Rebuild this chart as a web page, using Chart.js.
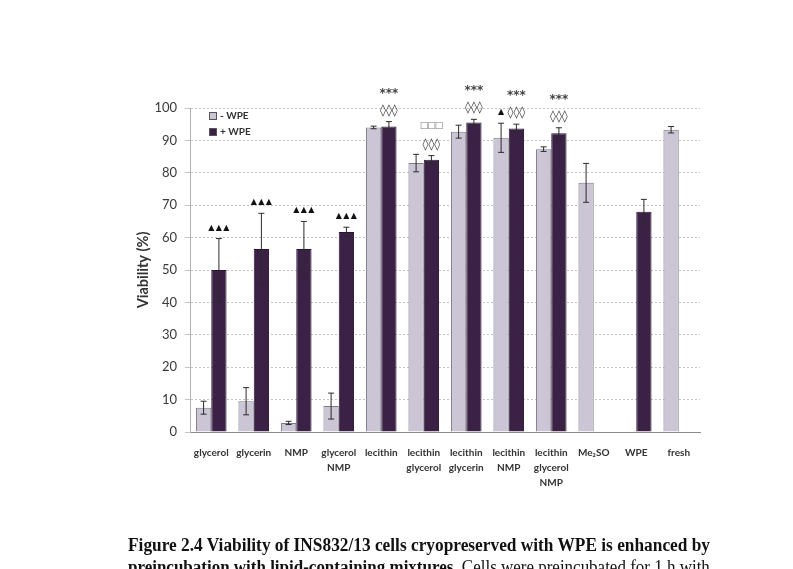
<!DOCTYPE html>
<html>
<head>
<meta charset="utf-8">
<script src="https://cdn.jsdelivr.net/npm/chart.js@4.4.0/dist/chart.umd.min.js"></script>
<style>
  html, body { margin: 0; padding: 0; background: #ffffff; }
  #wrap { position: relative; width: 793px; height: 569px; overflow: hidden; background: #fff; }
  #c { position: absolute; left: 0; top: 0; }
  .cap { position: absolute; left: 128px; white-space: nowrap; font-family: "Liberation Serif", "DejaVu Serif", serif; font-size: 18px; line-height: 22px; color: #111; transform-origin: 0 0; }
  .cap b { font-weight: bold; }
</style>
</head>
<body>
<div id="wrap">
  <canvas id="c" width="793" height="569"></canvas>
  <div class="cap" id="cap1" style="top:534px"><b>Figure 2.4 Viability of INS832/13 cells cryopreserved with WPE is enhanced by</b></div>
  <div class="cap" id="cap2" style="top:556px"><b>preincubation with lipid-containing mixtures.</b> Cells were preincubated for 1 h with</div>
</div>
<script>
// ---- data ----
const categories = [
  ["glycerol"], ["glycerin"], ["NMP"], ["glycerol", "NMP"], ["lecithin"],
  ["lecithin", "glycerol"], ["lecithin", "glycerin"], ["lecithin", "NMP"],
  ["lecithin", "glycerol", "NMP"], ["Me\u2082SO"], ["WPE"], ["fresh"]
];
const seriesNames = ["- WPE", "+ WPE"];
const minusWPE = [7.5, 9.5, 2.8, 8.0, 94.0, 83.0, 92.7, 90.8, 87.3, 76.9, null, 93.3];
const minusWPEErr = [2.0, 4.2, 0.5, 4.0, 0.4, 2.7, 2.0, 4.5, 0.7, 6.0, null, 1.0];
const plusWPE = [50.0, 56.5, 56.5, 61.7, 94.3, 84.0, 95.5, 93.7, 92.2, null, 68.0, null];
const plusWPEErr = [9.7, 11.0, 8.5, 1.5, 1.5, 1.3, 1.0, 1.3, 1.7, null, 3.8, null];
// significance markers (top line first), per category
const minusMarks = ["", "", "", "", "", "", "", "\u25B2", "", "", "", ""];
const plusMarks = ["\u25B2\u25B2\u25B2", "\u25B2\u25B2\u25B2", "\u25B2\u25B2\u25B2", "\u25B2\u25B2\u25B2",
  "***|\u25CA\u25CA\u25CA", "\u25A1\u25A1\u25A1|\u25CA\u25CA\u25CA", "***|\u25CA\u25CA\u25CA", "***|\u25CA\u25CA\u25CA",
  "***|\u25CA\u25CA\u25CA", "", "", ""];
const yTicks = [0, 10, 20, 30, 40, 50, 60, 70, 80, 90, 100];

const errs = [minusWPEErr, plusWPEErr];
const marks = [minusMarks, plusMarks];
const lightFill = "#cbc5d6", darkFill = "#3c2146";

// fit caption lines to the printed width
["cap1", "cap2"].forEach(id => {
  const el = document.getElementById(id);
  const w = el.scrollWidth;
  el.style.transform = "scaleX(" + (582 / w) + ")";
});

const extrasPlugin = {
  id: "extras",
  afterDatasetsDraw(chart) {
    const ctx = chart.ctx, y = chart.scales.y, area = chart.chartArea;
    ctx.save();
    chart.data.datasets.forEach((ds, di) => {
      const meta = chart.getDatasetMeta(di);
      meta.data.forEach((el, i) => {
        const v = ds.data[i];
        if (v === null || v === undefined) return;
        const e = errs[di][i] || 0;
        const x = el.x;
        const yTop = y.getPixelForValue(v + e), yBot = y.getPixelForValue(v - e);
        ctx.strokeStyle = "#2b2b2b"; ctx.lineWidth = 1;
        ctx.beginPath();
        ctx.moveTo(x, yTop); ctx.lineTo(x, yBot);
        ctx.moveTo(x - 3, yTop); ctx.lineTo(x + 3, yTop);
        ctx.moveTo(x - 3, yBot); ctx.lineTo(x + 3, yBot);
        ctx.stroke();
        const m = marks[di][i];
        if (m) {
          const lines = m.split("|").reverse();
          lines.forEach((t, k) => {
            const cy = yTop - 11 - k * 19;
            let font = "bold 11px Lato", color = "#333";
            if (t.indexOf("\u25B2") >= 0) { font = "8px 'DejaVu Sans'"; color = "#111"; }
            if (t.indexOf("\u25CA") >= 0) { font = "12px 'DejaVu Sans'"; color = "#444"; }
            if (t.indexOf("\u25A1") >= 0) { font = "9px 'DejaVu Sans'"; color = "#777"; }
            if (t === "***") { font = "bold 12px 'DejaVu Sans'"; color = "#444"; }
            ctx.font = font; ctx.fillStyle = color;
            ctx.textAlign = "center"; ctx.textBaseline = "middle";
            if (t.indexOf("\u25B2") >= 0 || t.indexOf("\u25A1") >= 0) {
              const chars = Array.from(t);
              const sp = 7.5;
              chars.forEach((ch, j) => ctx.fillText(ch, x + (j - (chars.length - 1) / 2) * sp, cy));
            } else if (t === "***") {
              ctx.fillText(t, x, cy + 2);
            } else {
              ctx.fillText(t, x, cy);
            }
          });
        }
      });
    });
    // legend inside plot
    const lx = area.left + 19, ly = area.top + 8;
    [[lightFill, seriesNames[0]], [darkFill, seriesNames[1]]].forEach((it, k) => {
      const yy = ly + k * 16;
      ctx.fillStyle = it[0]; ctx.strokeStyle = "#555"; ctx.lineWidth = 1;
      ctx.fillRect(lx, yy - 4, 8, 8);
      ctx.strokeRect(lx + 0.5, yy - 3.5, 7, 7);
      ctx.fillStyle = "#333"; ctx.font = "bold 10px Lato";
      ctx.textAlign = "left"; ctx.textBaseline = "middle";
      ctx.fillText(it[1], lx + 11, yy);
    });
    ctx.restore();
  }
};

new Chart(document.getElementById("c"), {
  type: "bar",
  data: {
    labels: categories,
    datasets: [
      { label: seriesNames[0], data: minusWPE, backgroundColor: lightFill, borderColor: "#7b7b85", borderWidth: 1 },
      { label: seriesNames[1], data: plusWPE, backgroundColor: darkFill, borderColor: "#2a1630", borderWidth: 1 }
    ]
  },
  options: {
    responsive: false,
    animation: false,
    layout: { padding: { left: 131, right: 93, top: 108, bottom: 0 } },
    datasets: { bar: { categoryPercentage: 0.72, barPercentage: 1.0 } },
    plugins: { legend: { display: false }, tooltip: { enabled: false } },
    scales: {
      x: {
        grid: { display: false },
        border: { color: "#8a8a8a", width: 1 },
        ticks: { autoSkip: false, maxRotation: 0, minRotation: 0, padding: 5, color: "#333",
                 font: { family: "Lato", size: 10, weight: "bold", lineHeight: 1.5 } },
        afterFit(s) { s.height = 137; }
      },
      y: {
        min: 0, max: 100,
        afterBuildTicks(s) { s.ticks = yTicks.map(v => ({ value: v })); },
        afterFit(s) { s.width = 59; },
        grid: { color: "#c4c4c4", tickLength: 5 },
        border: { display: true, color: "#b0b0b0", dash: [2, 2] },
        ticks: { padding: 8, color: "#3a3a3a", font: { family: "Lato", size: 13 } },
        title: { display: true, text: "Viability (%)", color: "#333", font: { family: "Lato", size: 14.5, weight: "bold" }, padding: { top: 4, bottom: 2 } }
      }
    }
  },
  plugins: [extrasPlugin]
});
</script>
</body>
</html>
